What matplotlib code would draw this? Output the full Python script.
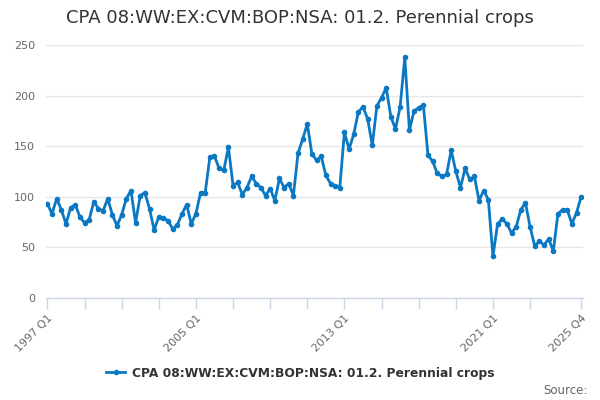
import matplotlib
matplotlib.use('Agg')
import matplotlib.pyplot as plt
from matplotlib.lines import Line2D

# quarterly values, 1997 Q1 .. 2025 Q4
start_year = 1997
values = [93, 83, 98, 87, 73, 89, 92, 80, 74, 77, 95, 88, 86, 98, 82, 71,
          82, 98, 106, 74, 101, 104, 88, 67, 80, 79, 76, 68, 72, 83, 92, 73,
          83, 104, 104, 139, 140, 128, 126, 149, 111, 114, 102, 109, 120, 113, 109, 101,
          108, 96, 118, 109, 113, 101, 143, 157, 172, 142, 136, 140, 121, 113, 111, 109,
          164, 147, 162, 184, 189, 177, 151, 190, 198, 208, 179, 167, 189, 238, 166, 185,
          188, 191, 141, 135, 123, 120, 122, 146, 125, 109, 128, 117, 120, 96, 106, 97,
          41, 73, 78, 73, 64, 70, 87, 94, 70, 51, 56, 52, 58, 46, 83, 87,
          87, 73, 84, 100]
quarters = ['%d Q%d' % (start_year + i // 4, i % 4 + 1) for i in range(len(values))]
label_idx = [0, 32, 64, 96, 115]
tick_idx = list(range(0, 105, 8)) + [115]
yticks = [0, 50, 100, 150, 200, 250]

series_name = 'CPA 08:WW:EX:CVM:BOP:NSA: 01.2. Perennial crops'
line_color = '#0a78c2'
axis_color = '#ccd6eb'
grid_color = '#e6e6e6'
text_gray = '#666666'

fig = plt.figure(figsize=(6, 4), dpi=100)
ax = fig.add_axes([46 / 600, 1 - 297.5 / 400, (583 - 46) / 600, (297.5 - 45.3) / 400])

x = list(range(len(values)))
ax.plot(x, values, color=line_color, lw=2, marker='o', ms=3, mec=line_color, zorder=3)

ax.set_xlim(-0.3, 115.4)
ax.set_ylim(0, 250)
ax.set_yticks(yticks)
ax.set_yticklabels([str(v) for v in yticks])
ax.yaxis.grid(True, color=grid_color, lw=1)
ax.set_axisbelow(True)

ax.set_xticks(tick_idx)
ax.set_xticklabels([quarters[i] if i in label_idx else '' for i in tick_idx],
                   rotation=45, ha='right', rotation_mode='anchor')

for s in ['top', 'right', 'left']:
    ax.spines[s].set_visible(False)
ax.spines['bottom'].set_color(axis_color)
ax.spines['bottom'].set_linewidth(1)
ax.tick_params(axis='x', colors=axis_color, length=8, width=1, labelcolor=text_gray,
               labelsize=8, pad=3)
ax.tick_params(axis='y', length=0, labelcolor=text_gray, labelsize=8, pad=8)

fig.text(0.5, 1 - 18 / 400, series_name, ha='center', va='center',
         fontsize=13, color='#333333')

handle = Line2D([], [], color=line_color, lw=2, marker='o', ms=3)
fig.legend([handle], [series_name], loc='center', bbox_to_anchor=(0.5, 1 - 373 / 400),
           frameon=False, prop={'weight': 'bold', 'size': 8.8}, handlelength=1.6,
           handletextpad=0.5, labelcolor='#333333')

fig.text(588 / 600, 1 - 390 / 400, 'Source:', ha='right', va='center',
         fontsize=8.5, color=text_gray)

fig.savefig('out.png', dpi=100)
